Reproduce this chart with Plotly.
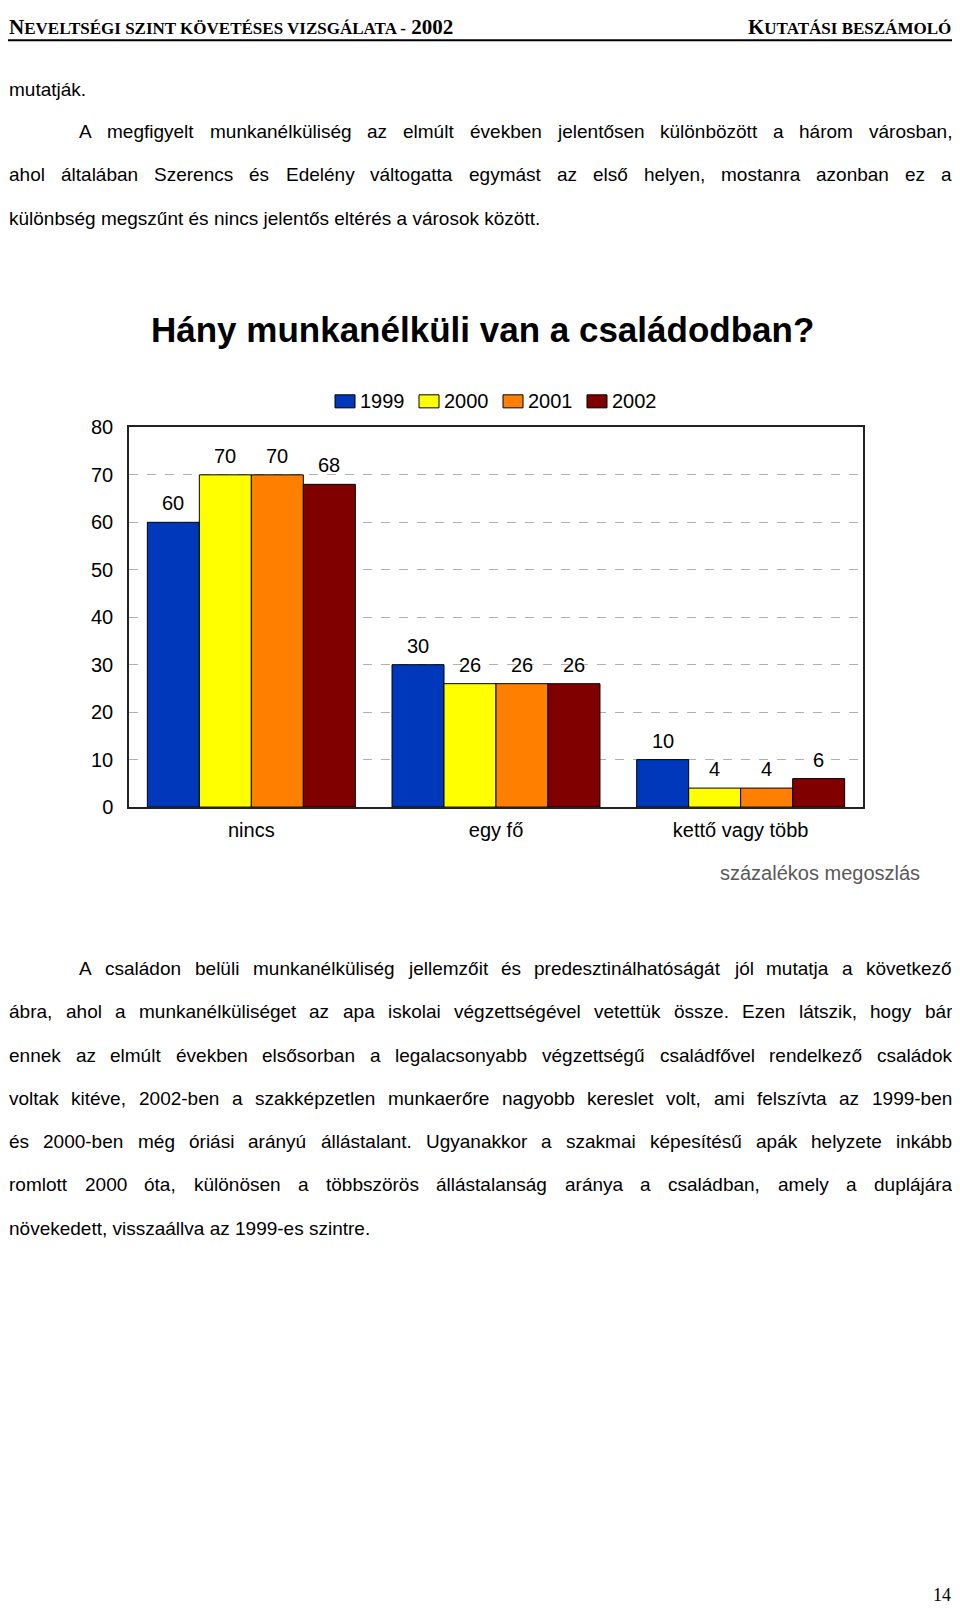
import plotly.graph_objects as go

# ---------------- data ----------------
categories = ["nincs", "egy fő", "kettő vagy több"]
years = ["1999", "2000", "2001", "2002"]
values_1999 = [60, 30, 10]
values_2000 = [70, 26, 4]
values_2001 = [70, 26, 4]
values_2002 = [68, 26, 6]
series_values = [values_1999, values_2000, values_2001, values_2002]
y_ticks = [0, 10, 20, 30, 40, 50, 60, 70, 80]

title_text = "Hány munkanélküli van a családodban?"
note_text = "százalékos megoszlás"

para1 = [
    "mutatják.",
    "A megfigyelt munkanélküliség az elmúlt években jelentősen különbözött a három városban,",
    "ahol általában Szerencs és Edelény váltogatta egymást az első helyen, mostanra azonban ez a",
    "különbség megszűnt és nincs jelentős eltérés a városok között.",
]
para2 = [
    "A családon belüli munkanélküliség jellemzőit és predesztinálhatóságát jól mutatja a következő",
    "ábra, ahol a munkanélküliséget az apa iskolai végzettségével vetettük össze. Ezen látszik, hogy bár",
    "ennek az elmúlt években elsősorban a legalacsonyabb végzettségű családfővel rendelkező családok",
    "voltak kitéve, 2002-ben a szakképzetlen munkaerőre nagyobb kereslet volt, ami felszívta az 1999-ben",
    "és 2000-ben még óriási arányú állástalant. Ugyanakkor a szakmai képesítésű apák helyzete inkább",
    "romlott 2000 óta, különösen a többszörös állástalanság aránya a családban, amely a duplájára",
    "növekedett, visszaállva az 1999-es szintre.",
]

# ---------------- style / page geometry ----------------
PAGE_W = 960
BODY_MARGIN = 8                      # default HTML body margin around the figure
W, H = PAGE_W - 2 * BODY_MARGIN, 1609
# observed vertical mapping of the capture: shown_y = V_SCALE * page_y + V_OFF
V_SCALE, V_OFF = 0.9845, 11.5
colors = ["#0038BC", "#FFFF00", "#FF8000", "#800000"]
SANS = "Liberation Sans, Arial, sans-serif"
SERIF = "Liberation Serif, Times New Roman, serif"

def px(xp):  # target picture x -> paper fraction
    return (xp - BODY_MARGIN) / W

def fy_of(yp):  # target picture y -> figure pixel y
    return (yp - V_OFF) / V_SCALE - BODY_MARGIN

def py(yp):
    return 1 - fy_of(yp) / H

def py_fig(fy):  # figure pixel y -> paper fraction
    return 1 - fy / H

plot_l, plot_r, plot_t, plot_b = 129, 863, 427, 806
bar_w = 52

fig = go.Figure()
for name, vals, col in zip(years, series_values, colors):
    fig.add_trace(go.Bar(
        x=categories, y=vals, name=name,
        marker=dict(color=col, line=dict(color="black", width=1)),
        showlegend=False,
    ))

annotations = []
# data labels
for i, vals in enumerate(series_values):
    for c, v in zip(categories, vals):
        annotations.append(dict(
            x=c, y=v, xref="x", yref="y", text=str(v), showarrow=False,
            xshift=(i - 1.5) * bar_w, yshift=6, yanchor="bottom",
            font=dict(family=SANS, size=20, color="black"),
        ))

shapes = []
# legend (drawn by hand so the swatches match the reference size)
leg_x0, leg_step, leg_y = 335, 84, 401
for i, (name, col) in enumerate(zip(years, colors)):
    x0 = leg_x0 + i * leg_step
    shapes.append(dict(type="rect", xref="paper", yref="paper",
                       x0=px(x0), x1=px(x0 + 20), y0=py(leg_y + 6.5), y1=py(leg_y - 6.5),
                       fillcolor=col, line=dict(color="black", width=1)))
    annotations.append(dict(x=px(x0 + 23), y=py(leg_y), xref="paper", yref="paper",
                            text=name, showarrow=False, xanchor="left", yanchor="middle",
                            font=dict(family=SANS, size=20, color="black")))

# chart title
annotations.append(dict(x=px(482), y=py(329), xref="paper", yref="paper", text="<b>" + title_text + "</b>",
                        showarrow=False, xanchor="center", yanchor="middle",
                        font=dict(family=SANS, size=35, color="black")))
# note
annotations.append(dict(x=px(922), y=py(872), xref="paper", yref="paper", text=note_text,
                        showarrow=False, xanchor="right", yanchor="middle",
                        font=dict(family=SANS, size=20, color="#595959")))

# header (small caps imitation) - as high as the figure allows
small = "font-size:17px"
hdr_left = "<b>N<span style='%s'>EVELTSÉGI SZINT KÖVETÉSES VIZSGÁLATA -</span> 2002</b>" % small
hdr_right = "<b>K<span style='%s'>UTATÁSI BESZÁMOLÓ</span></b>" % small
hdr_fy = 8
annotations.append(dict(x=px(8), y=py_fig(hdr_fy), xref="paper", yref="paper", text=hdr_left,
                        showarrow=False, xanchor="left", yanchor="middle", borderpad=0,
                        font=dict(family=SERIF, size=21, color="black")))
annotations.append(dict(x=px(952), y=py_fig(hdr_fy), xref="paper", yref="paper", text=hdr_right,
                        showarrow=False, xanchor="right", yanchor="middle", borderpad=0,
                        font=dict(family=SERIF, size=21, color="black")))
line_fy = hdr_fy + 13.5
shapes.append(dict(type="line", xref="paper", yref="paper", x0=0, x1=1,
                   y0=py_fig(line_fy), y1=py_fig(line_fy), line=dict(color="black", width=2)))

# page number (as low as the figure allows)
annotations.append(dict(x=px(952), y=0, xref="paper", yref="paper", text="14",
                        showarrow=False, xanchor="right", yanchor="bottom", borderpad=0,
                        font=dict(family=SERIF, size=18, color="black")))

# ---------------- body text (justified with Arial/Liberation Sans metrics) ----------------
BODY_SIZE = 19
ARIAL = {" ": 278, ",": 278, ".": 278, "-": 333, "?": 556, "!": 278}
for ch in "0123456789":
    ARIAL[ch] = 556
ARIAL.update({"A": 667, "B": 667, "C": 722, "D": 722, "E": 667, "F": 611, "G": 778, "H": 722,
              "I": 278, "J": 500, "K": 667, "L": 556, "M": 833, "N": 722, "O": 778, "P": 667,
              "R": 722, "S": 667, "T": 611, "U": 722, "V": 667, "Z": 611})
ARIAL.update({"a": 556, "b": 556, "c": 500, "d": 556, "e": 556, "f": 278, "g": 556, "h": 556,
              "i": 222, "j": 222, "k": 500, "l": 222, "m": 833, "n": 556, "o": 556, "p": 556,
              "q": 556, "r": 333, "s": 500, "t": 278, "u": 556, "v": 500, "w": 722, "x": 500,
              "y": 500, "z": 500, "á": 556, "é": 556, "í": 278, "ó": 556, "ö": 556, "ő": 556,
              "ú": 556, "ü": 556, "ű": 556})

def word_w(w):
    return sum(ARIAL.get(ch, 556) for ch in w) * BODY_SIZE / 1000.0

TEXT_L, TEXT_R, INDENT = 8, 951, 78
LINE_H = 43.2

def body_annot(x, y, text):
    annotations.append(dict(x=px(x), y=py(y), xref="paper", yref="paper", text=text,
                            showarrow=False, xanchor="left", yanchor="middle", borderpad=0,
                            font=dict(family=SANS, size=BODY_SIZE, color="black")))

def add_para(lines, y_start, first_indent):
    for k, line in enumerate(lines):
        y = y_start + k * LINE_H
        x0 = first_indent if k == 0 else TEXT_L
        if k == len(lines) - 1:
            body_annot(x0, y, line)
            continue
        words = line.split(" ")
        ws = [word_w(w) for w in words]
        gap = (TEXT_R - x0 - sum(ws)) / (len(words) - 1)
        gap = max(gap, word_w(" ") * 0.6)
        x = x0
        for w, wd in zip(words, ws):
            body_annot(x, y, w)
            x += wd + gap

# "mutatják." is the closing line of the previous page's paragraph
body_annot(TEXT_L, 89.5, para1[0])
add_para(para1[1:], 131.7, INDENT)
add_para(para2, 967.2, INDENT)

fig.update_layout(
    width=W, height=H,
    margin=dict(l=0, r=0, t=0, b=0),
    paper_bgcolor="white", plot_bgcolor="white",
    barmode="group", bargap=0.15, bargroupgap=0,
    xaxis=dict(domain=[px(plot_l), px(plot_r)], showline=True, mirror=True,
               linecolor="#222", linewidth=1.5, showgrid=False, ticks="",
               tickfont=dict(family=SANS, size=20, color="black"), ticklabelstandoff=4),
    yaxis=dict(domain=[py(plot_b), py(plot_t)], range=[0, 80], tickvals=y_ticks,
               showline=True, mirror=True, linecolor="#222", linewidth=1.5,
               showgrid=True, gridcolor="#B0B0B0", griddash="dash", gridwidth=1,
               zeroline=False, ticks="",
               tickfont=dict(family=SANS, size=20, color="black"), ticklabelstandoff=10),
    annotations=annotations,
    shapes=shapes,
    showlegend=False,
)

fig.write_html("out.html")
